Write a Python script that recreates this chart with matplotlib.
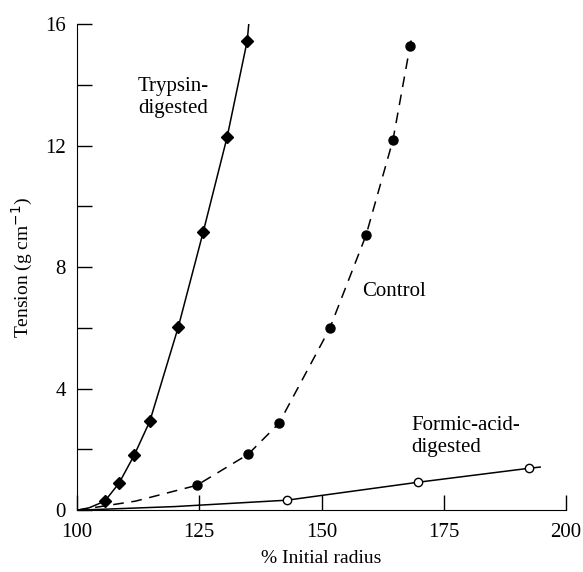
import matplotlib.pyplot as plt

plt.rcParams['font.family'] = ['Liberation Serif', 'DejaVu Serif']

# measured points (% initial radius, tension g/cm)
trypsin_x = [105.7, 108.6, 111.7, 114.9, 120.7, 125.8, 130.7, 134.8]
trypsin_y = [0.30, 0.89, 1.81, 2.93, 6.02, 9.15, 12.28, 15.44]
control_x = [124.5, 135.0, 141.3, 151.7, 159.1, 164.6, 168.1]
control_y = [0.82, 1.84, 2.86, 5.99, 9.05, 12.18, 15.28]
formic_x = [142.9, 169.7, 192.4]
formic_y = [0.33, 0.92, 1.38]

# fitted curves drawn through the points (start / end of each line)
trypsin_line_x = [100, 102.5] + trypsin_x + [135.3]
trypsin_line_y = [0, 0.08] + trypsin_y + [16.3]
control_line_x = [100, 112] + control_x + [168.5]
control_line_y = [0, 0.3] + control_y + [15.6]
formic_line_x = [100, 120] + formic_x + [194.7]
formic_line_y = [0, 0.12] + formic_y + [1.42]

fig = plt.figure(figsize=(5.83, 5.72), dpi=100)
ax = fig.add_axes([0.132, 0.108, 0.839, 0.85])

ax.plot(trypsin_line_x, trypsin_line_y, color='black', lw=1.1)
ax.plot(trypsin_x, trypsin_y, 'D', color='black', ms=6.5)
ax.plot(control_line_x, control_line_y, color='black', lw=1.1, dashes=(7, 5))
ax.plot(control_x, control_y, 'o', color='black', ms=6.5)
ax.plot(formic_line_x, formic_line_y, color='black', lw=1.1)
ax.plot(formic_x, formic_y, 'o', mfc='white', mec='black', ms=6, mew=1)

ax.text(112.5, 14.25, "Trypsin-\ndigested", fontsize=15, va='top', ha='left', linespacing=1.2)
ax.text(158.3, 7.2, "Control", fontsize=15, va='center', ha='left')
ax.text(168.3, 3.1, "Formic-acid-\ndigested", fontsize=15, va='top', ha='left', linespacing=1.2)

ax.set_xlim(100, 200)
ax.set_ylim(0, 16)
ax.set_xticks([100, 125, 150, 175, 200])
ax.set_yticks([0, 4, 8, 12, 16])
ax.set_yticks([2, 6, 10, 14], minor=True)
ax.tick_params(direction='in', length=11, width=1, labelsize=15)
ax.tick_params(axis='y', pad=8)
ax.tick_params(axis='x', pad=9)
ax.tick_params(which='minor', direction='in', length=11, width=1)
ax.spines['top'].set_visible(False)
ax.spines['right'].set_visible(False)
ax.set_xlabel("% Initial radius", fontsize=14, labelpad=6)
ax.set_ylabel("Tension (g cm$^{-1}$)", fontsize=14, labelpad=7)

fig.savefig("out.png", dpi=100)
